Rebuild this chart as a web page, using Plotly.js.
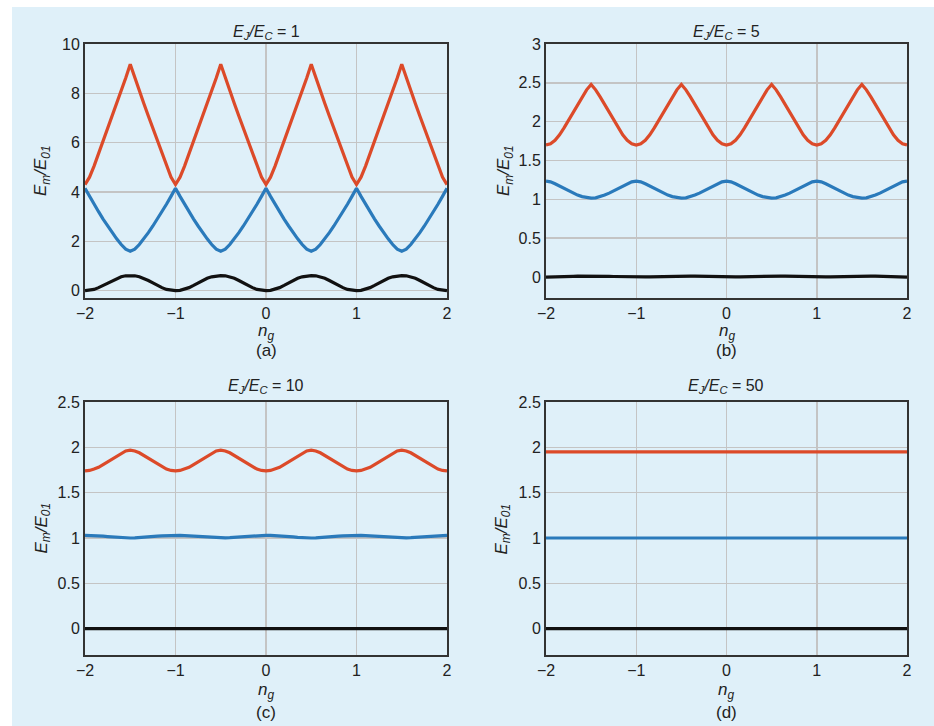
<!DOCTYPE html>
<html>
<head>
<meta charset="utf-8">
<script src="https://cdn.plot.ly/plotly-3.0.1.min.js"></script>
<style>
html,body{margin:0;padding:0;background:#ffffff;}
#chart{width:934px;height:726px;}
</style>
</head>
<body>
<div id="chart"></div>
<script>
// ---- data ----
const ngFine = [-2,-1.95,-1.9,-1.85,-1.8,-1.75,-1.7,-1.65,-1.6,-1.55,-1.5,-1.45,-1.4,-1.35,-1.3,-1.25,-1.2,-1.15,-1.1,-1.05,
  -1,-0.95,-0.9,-0.85,-0.8,-0.75,-0.7,-0.65,-0.6,-0.55,-0.5,-0.45,-0.4,-0.35,-0.3,-0.25,-0.2,-0.15,-0.1,-0.05,
  0,0.05,0.1,0.15,0.2,0.25,0.3,0.35,0.4,0.45,0.5,0.55,0.6,0.65,0.7,0.75,0.8,0.85,0.9,0.95,
  1,1.05,1.1,1.15,1.2,1.25,1.3,1.35,1.4,1.45,1.5,1.55,1.6,1.65,1.7,1.75,1.8,1.85,1.9,1.95,2];
const ngCoarse = [-2,-1,0,1,2];

// (a) EJ/EC = 1
const a_E2 = [4.3,4.6,5.05,5.55,6.06,6.57,7.08,7.59,8.1,8.62,9.18,8.62,8.1,7.59,7.08,6.57,6.06,5.55,5.05,4.6,
  4.3,4.6,5.05,5.55,6.06,6.57,7.08,7.59,8.1,8.62,9.18,8.62,8.1,7.59,7.08,6.57,6.06,5.55,5.05,4.6,
  4.3,4.6,5.05,5.55,6.06,6.57,7.08,7.59,8.1,8.62,9.18,8.62,8.1,7.59,7.08,6.57,6.06,5.55,5.05,4.6,
  4.3,4.6,5.05,5.55,6.06,6.57,7.08,7.59,8.1,8.62,9.18,8.62,8.1,7.59,7.08,6.57,6.06,5.55,5.05,4.6,4.3];
const a_E1 = [4.15,3.82,3.5,3.2,2.9,2.62,2.35,2.1,1.87,1.68,1.6,1.68,1.87,2.1,2.35,2.62,2.9,3.2,3.5,3.82,
  4.15,3.82,3.5,3.2,2.9,2.62,2.35,2.1,1.87,1.68,1.6,1.68,1.87,2.1,2.35,2.62,2.9,3.2,3.5,3.82,
  4.15,3.82,3.5,3.2,2.9,2.62,2.35,2.1,1.87,1.68,1.6,1.68,1.87,2.1,2.35,2.62,2.9,3.2,3.5,3.82,
  4.15,3.82,3.5,3.2,2.9,2.62,2.35,2.1,1.87,1.68,1.6,1.68,1.87,2.1,2.35,2.62,2.9,3.2,3.5,3.82,4.15];
const a_E0 = [0,0.01,0.05,0.12,0.21,0.31,0.41,0.5,0.56,0.6,0.61,0.6,0.56,0.5,0.41,0.31,0.21,0.12,0.05,0.01,
  0,0.01,0.05,0.12,0.21,0.31,0.41,0.5,0.56,0.6,0.61,0.6,0.56,0.5,0.41,0.31,0.21,0.12,0.05,0.01,
  0,0.01,0.05,0.12,0.21,0.31,0.41,0.5,0.56,0.6,0.61,0.6,0.56,0.5,0.41,0.31,0.21,0.12,0.05,0.01,
  0,0.01,0.05,0.12,0.21,0.31,0.41,0.5,0.56,0.6,0.61,0.6,0.56,0.5,0.41,0.31,0.21,0.12,0.05,0.01,0];

// (b) EJ/EC = 5
const b_E2 = [1.7,1.715,1.76,1.83,1.92,2.02,2.12,2.22,2.32,2.41,2.48,2.41,2.32,2.22,2.12,2.02,1.92,1.83,1.76,1.715,
  1.7,1.715,1.76,1.83,1.92,2.02,2.12,2.22,2.32,2.41,2.48,2.41,2.32,2.22,2.12,2.02,1.92,1.83,1.76,1.715,
  1.7,1.715,1.76,1.83,1.92,2.02,2.12,2.22,2.32,2.41,2.48,2.41,2.32,2.22,2.12,2.02,1.92,1.83,1.76,1.715,
  1.7,1.715,1.76,1.83,1.92,2.02,2.12,2.22,2.32,2.41,2.48,2.41,2.32,2.22,2.12,2.02,1.92,1.83,1.76,1.715,1.7];
const b_E1 = [1.235,1.225,1.2,1.17,1.14,1.11,1.08,1.055,1.035,1.02,1.015,1.02,1.035,1.055,1.08,1.11,1.14,1.17,1.2,1.225,
  1.235,1.225,1.2,1.17,1.14,1.11,1.08,1.055,1.035,1.02,1.015,1.02,1.035,1.055,1.08,1.11,1.14,1.17,1.2,1.225,
  1.235,1.225,1.2,1.17,1.14,1.11,1.08,1.055,1.035,1.02,1.015,1.02,1.035,1.055,1.08,1.11,1.14,1.17,1.2,1.225,
  1.235,1.225,1.2,1.17,1.14,1.11,1.08,1.055,1.035,1.02,1.015,1.02,1.035,1.055,1.08,1.11,1.14,1.17,1.2,1.225,1.235];
const b_E0 = [0,0,0.001,0.003,0.005,0.007,0.009,0.011,0.012,0.013,0.013,0.013,0.012,0.011,0.009,0.007,0.005,0.003,0.001,0,
  0,0,0.001,0.003,0.005,0.007,0.009,0.011,0.012,0.013,0.013,0.013,0.012,0.011,0.009,0.007,0.005,0.003,0.001,0,
  0,0,0.001,0.003,0.005,0.007,0.009,0.011,0.012,0.013,0.013,0.013,0.012,0.011,0.009,0.007,0.005,0.003,0.001,0,
  0,0,0.001,0.003,0.005,0.007,0.009,0.011,0.012,0.013,0.013,0.013,0.012,0.011,0.009,0.007,0.005,0.003,0.001,0,0];

// (c) EJ/EC = 10
const c_E2 = [1.74,1.745,1.76,1.78,1.81,1.84,1.875,1.91,1.94,1.96,1.97,1.96,1.94,1.91,1.875,1.84,1.81,1.78,1.76,1.745,
  1.74,1.745,1.76,1.78,1.81,1.84,1.875,1.91,1.94,1.96,1.97,1.96,1.94,1.91,1.875,1.84,1.81,1.78,1.76,1.745,
  1.74,1.745,1.76,1.78,1.81,1.84,1.875,1.91,1.94,1.96,1.97,1.96,1.94,1.91,1.875,1.84,1.81,1.78,1.76,1.745,
  1.74,1.745,1.76,1.78,1.81,1.84,1.875,1.91,1.94,1.96,1.97,1.96,1.94,1.91,1.875,1.84,1.81,1.78,1.76,1.745,1.74];
const c_E1 = [1.03,1.029,1.027,1.024,1.02,1.016,1.012,1.008,1.004,1.002,1.0,1.002,1.004,1.008,1.012,1.016,1.02,1.024,1.027,1.029,
  1.03,1.029,1.027,1.024,1.02,1.016,1.012,1.008,1.004,1.002,1.0,1.002,1.004,1.008,1.012,1.016,1.02,1.024,1.027,1.029,
  1.03,1.029,1.027,1.024,1.02,1.016,1.012,1.008,1.004,1.002,1.0,1.002,1.004,1.008,1.012,1.016,1.02,1.024,1.027,1.029,
  1.03,1.029,1.027,1.024,1.02,1.016,1.012,1.008,1.004,1.002,1.0,1.002,1.004,1.008,1.012,1.016,1.02,1.024,1.027,1.029,1.03];
const c_E0 = [0,0,0,0,0];

// (d) EJ/EC = 50
const d_E2 = [1.95,1.95,1.95,1.95,1.95];
const d_E1 = [1.0,1.0,1.0,1.0,1.0];
const d_E0 = [0,0,0,0,0];

const panelTitles = ['<i>E<sub>J</sub>/E<sub>C</sub></i> = 1','<i>E<sub>J</sub>/E<sub>C</sub></i> = 5',
                     '<i>E<sub>J</sub>/E<sub>C</sub></i> = 10','<i>E<sub>J</sub>/E<sub>C</sub></i> = 50'];
const panelLabels = ['(a)','(b)','(c)','(d)'];
const xTickVals = [-2,-1,0,1,2];

// ---- styling ----
const RED = '#dc4a29', BLUE = '#2a7abb', BLACK = '#111111';
const W = 934, H = 726;
const px = v => v / W;
const py = v => 1 - v / H;

function tr(x, y, color, xa, ya){
  return {x:x, y:y, type:'scatter', mode:'lines', xaxis:xa, yaxis:ya,
          line:{color:color, width:3.2}, hoverinfo:'skip', showlegend:false};
}

const data = [
  tr(ngFine, a_E2, RED, 'x', 'y'), tr(ngFine, a_E1, BLUE, 'x', 'y'), tr(ngFine, a_E0, BLACK, 'x', 'y'),
  tr(ngFine, b_E2, RED, 'x2', 'y2'), tr(ngFine, b_E1, BLUE, 'x2', 'y2'), tr(ngFine, b_E0, BLACK, 'x2', 'y2'),
  tr(ngFine, c_E2, RED, 'x3', 'y3'), tr(ngFine, c_E1, BLUE, 'x3', 'y3'), tr(ngCoarse, c_E0, BLACK, 'x3', 'y3'),
  tr(ngCoarse, d_E2, RED, 'x4', 'y4'), tr(ngCoarse, d_E1, BLUE, 'x4', 'y4'), tr(ngCoarse, d_E0, BLACK, 'x4', 'y4')
];

const FONT = 'Liberation Sans, Arial, Helvetica, sans-serif';
const TXT = '#222222';

function xax(dom, anchor){
  return {domain:dom, anchor:anchor, range:[-2,2], tickvals:xTickVals, ticks:'',
    showgrid:true, gridcolor:'#c4c4c4', gridwidth:1.5, zeroline:false,
    showline:true, mirror:true, linecolor:'#333333', linewidth:2,
    tickfont:{family:FONT, size:16, color:TXT}, fixedrange:true};
}
function yax(dom, anchor, range, dtick){
  return {domain:dom, anchor:anchor, range:range, dtick:dtick, tick0:0, ticks:'',
    showgrid:true, gridcolor:'#c4c4c4', gridwidth:1.5, zeroline:false,
    showline:true, mirror:true, linecolor:'#333333', linewidth:2,
    tickfont:{family:FONT, size:16, color:TXT}, fixedrange:true};
}

const xL = [px(85), px(447)], xR = [px(546), px(907)];
const yT = [py(298), py(44)], yB = [py(655), py(402)];

const panels = [
  {cx:266, top:44, bot:298, yx:42, lab:350, ng:332, ty:32},
  {cx:726.5, top:44, bot:298, yx:505, lab:350, ng:332, ty:32},
  {cx:266, top:402, bot:655, yx:42, lab:712, ng:691, ty:386},
  {cx:726, top:402, bot:655, yx:502, lab:712, ng:691, ty:386}
];

const annotations = [];
panels.forEach((p, i) => {
  annotations.push({xref:'paper', yref:'paper', x:px(p.cx), y:py(p.ty), text:panelTitles[i],
    showarrow:false, xanchor:'center', yanchor:'middle', font:{family:FONT, size:16, color:TXT}});
  annotations.push({xref:'paper', yref:'paper', x:px(p.cx), y:py(p.ng), text:'<i>n<sub>g</sub></i>',
    showarrow:false, xanchor:'center', yanchor:'middle', font:{family:FONT, size:17, color:TXT}});
  annotations.push({xref:'paper', yref:'paper', x:px(p.cx), y:py(p.lab), text:panelLabels[i],
    showarrow:false, xanchor:'center', yanchor:'middle', font:{family:FONT, size:17, color:TXT}});
  annotations.push({xref:'paper', yref:'paper', x:px(p.yx), y:py((p.top + p.bot) / 2),
    text:'<i>E<sub>m</sub>/E<sub>01</sub></i>', textangle:-90,
    showarrow:false, xanchor:'center', yanchor:'middle', font:{family:FONT, size:17, color:TXT}});
});

const layout = {
  width:W, height:H, margin:{l:0, r:0, t:0, b:0},
  paper_bgcolor:'#ffffff', plot_bgcolor:'#ffffff',
  showlegend:false,
  shapes:[{type:'rect', xref:'paper', yref:'paper', x0:px(12), x1:1, y0:0, y1:py(7),
           fillcolor:'#dff0f9', line:{width:0}, layer:'below'}],
  xaxis:xax(xL, 'y'), yaxis:yax(yT, 'x', [-0.3, 10], 2),
  xaxis2:xax(xR, 'y2'), yaxis2:yax(yT, 'x2', [-0.27, 3], 0.5),
  xaxis3:xax(xL, 'y3'), yaxis3:yax(yB, 'x3', [-0.29, 2.5], 0.5),
  xaxis4:xax(xR, 'y4'), yaxis4:yax(yB, 'x4', [-0.29, 2.5], 0.5),
  annotations:annotations
};

Plotly.newPlot('chart', data, layout, {displayModeBar:false, staticPlot:true});
</script>
</body>
</html>
